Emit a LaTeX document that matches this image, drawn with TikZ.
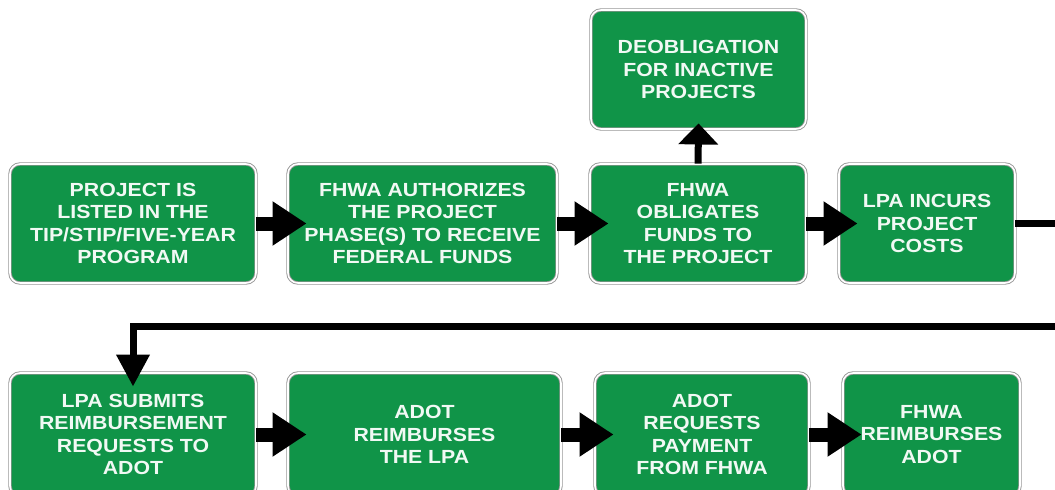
\documentclass[tikz,border=0pt]{standalone}
\usepackage{fontspec}
\newfontfamily\signfont[FakeStretch=1.12]{Liberation Sans}
\usepackage{tikz}
\usetikzlibrary{arrows.meta}

\definecolor{signgreen}{RGB}{16,148,72}
\definecolor{signrim}{RGB}{150,150,150}

\begin{document}
\begin{tikzpicture}[
  x=1pt, y=-1pt,
  line join=miter,
  sign/.style={draw=signrim, line width=0.9pt, double=white, double distance=1.6pt,
    fill=signgreen, rounded corners=10pt, inner sep=0pt, align=center,
    minimum height=119pt, text=white!94!signgreen,
    font=\signfont\bfseries\fontsize{19}{22.5}\selectfont},
  flow/.style={line width=14pt, -{Triangle[length=34pt,width=42pt]}, shorten >=-19pt},
  back/.style={line width=7pt, -{Triangle[length=32pt,width=32pt]}, shorten >=-14pt},
  lapse/.style={line width=7pt, -{Triangle[length=21pt,width=39pt]}, shorten >=-6pt}
]
  \useasboundingbox (0,0) rectangle (1055,490);

  % First row
  \node[sign, minimum width=246pt] (listed) at (133,223.5)
    {PROJECT IS\\LISTED IN THE\\TIP/STIP/FIVE-YEAR\\PROGRAM};
  \node[sign, minimum width=269pt] (authorize) at (422.5,223.5)
    {FHWA AUTHORIZES\\THE PROJECT\\PHASE(S) TO RECEIVE\\FEDERAL FUNDS};
  \node[sign, minimum width=216pt] (obligate) at (698,223.5)
    {FHWA\\OBLIGATES\\FUNDS TO\\THE PROJECT};
  \node[sign, minimum width=176pt] (incur) at (927,223.5)
    {LPA INCURS\\PROJECT\\COSTS};

  % Side branch
  \node[sign, minimum width=215pt] (deob) at (698.5,69.5)
    {DEOBLIGATION\\FOR INACTIVE\\PROJECTS};

  % Second row (runs past the lower edge)
  \node[sign, minimum width=246pt, minimum height=123pt] (submit) at (133,434.5)
    {LPA SUBMITS\\REIMBURSEMENT\\REQUESTS TO\\ADOT};
  \node[sign, minimum width=273pt, minimum height=123pt] (repay) at (424.5,434.5)
    {ADOT\\REIMBURSES\\THE LPA};
  \node[sign, minimum width=214pt, minimum height=123pt] (request) at (702,434.5)
    {ADOT\\REQUESTS\\PAYMENT\\FROM FHWA};
  \node[sign, minimum width=177pt, minimum height=123pt] (refund) at (931.5,434.5)
    {FHWA\\REIMBURSES\\ADOT};

  % Arrows along the rows
  \draw[flow] (listed.east) -- (authorize.west);
  \draw[flow] (authorize.east) -- (obligate.west);
  \draw[flow] (obligate.east) -- (incur.west);
  \draw[flow] (submit.east) -- (repay.west);
  \draw[flow] (repay.east) -- (request.west);
  \draw[flow] (request.east) -- (refund.west);

  % Deobligation branch
  \draw[lapse] (obligate.north) -- (deob.south);

  % Return line to the second row
  \draw[back] (incur.east) -| (1075,326) -| (submit.north);
\end{tikzpicture}
\end{document}
